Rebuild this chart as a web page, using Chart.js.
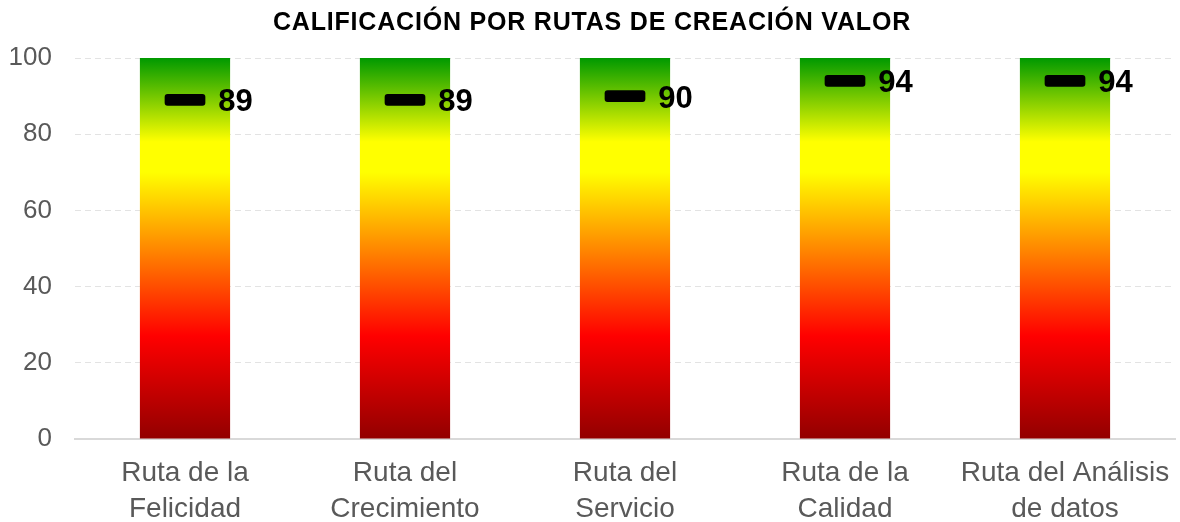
<!DOCTYPE html>
<html><head><meta charset="utf-8">
<script src="https://cdn.jsdelivr.net/npm/chart.js@4/dist/chart.umd.min.js"></script>
<style>html,body{margin:0;padding:0;background:#fff}#wrap{width:1180px;height:522px;position:relative}canvas{display:block}</style>
</head><body><div id="wrap"><canvas id="c" width="1180" height="522"></canvas></div>
<script>
const chartTitle = "CALIFICACIÓN POR RUTAS DE CREACIÓN VALOR";
const categories = [["Ruta de la","Felicidad"],["Ruta del","Crecimiento"],["Ruta del","Servicio"],["Ruta de la","Calidad"],["Ruta del Análisis","de datos"]];
const scores = [89, 89, 90, 94, 94];
const fullScale = [100, 100, 100, 100, 100];
const yTicks = [0, 20, 40, 60, 80, 100];
const markerHalf = 1.55;

const FONT = "'Liberation Sans', Arial, sans-serif";

function barGradient(ctx) {
  const chart = ctx.chart;
  const y = chart.scales.y;
  if (!chart.chartArea || !y) return '#ff0000';
  const g = chart.ctx.createLinearGradient(0, y.getPixelForValue(0), 0, y.getPixelForValue(100));
  g.addColorStop(0, '#920000');
  g.addColorStop(0.27, '#ff0000');
  g.addColorStop(0.70, '#ffff00');
  g.addColorStop(0.78, '#ffff00');
  g.addColorStop(1, '#009900');
  return g;
}

const titlePlugin = {
  id: 'customTitle',
  afterDraw(chart) {
    const c = chart.ctx;
    c.save();
    c.font = "bold 25px " + FONT;
    c.fillStyle = '#000';
    c.textAlign = 'center';
    c.textBaseline = 'middle';
    try { c.letterSpacing = '0.8px'; } catch (e) {}
    c.fillText(chartTitle, 592, 23);
    c.restore();
  }
};

const labelPlugin = {
  id: 'scoreLabels',
  afterDatasetsDraw(chart) {
    const meta = chart.getDatasetMeta(1);
    const c = chart.ctx;
    c.save();
    c.font = "bold 31px " + FONT;
    c.fillStyle = '#000';
    c.textAlign = 'left';
    c.textBaseline = 'middle';
    meta.data.forEach((el, i) => {
      const p = el.getProps(['x', 'y', 'base', 'width'], true);
      const cy = (p.y + p.base) / 2;
      c.fillText(String(scores[i]), p.x + p.width / 2 + 13, cy + 3);
    });
    c.restore();
  }
};

new Chart(document.getElementById('c'), {
  type: 'bar',
  data: {
    labels: categories,
    datasets: [
      {
        data: fullScale,
        backgroundColor: barGradient,
        borderWidth: 0,
        categoryPercentage: 1,
        barPercentage: 0.41,
        grouped: false,
        order: 2
      },
      {
        data: scores.map(v => [v - markerHalf, v + markerHalf]),
        backgroundColor: '#000',
        borderWidth: 0,
        borderRadius: 3,
        borderSkipped: false,
        categoryPercentage: 1,
        barPercentage: 0.185,
        grouped: false,
        order: 1
      }
    ]
  },
  options: {
    responsive: false,
    maintainAspectRatio: false,
    animation: false,
    devicePixelRatio: 1,
    layout: { padding: { left: 0, right: 5, top: 58, bottom: 0 } },
    plugins: { legend: { display: false }, tooltip: { enabled: false }, title: { display: false } },
    scales: {
      x: {
        grid: { display: false, drawTicks: false },
        border: { display: true, color: '#d9d9d9', width: 2 },
        ticks: { color: '#595959', font: { family: FONT, size: 28, lineHeight: 1.3 }, padding: 16, maxRotation: 0, autoSkip: false },
        afterFit(s) { s.height = 83; s.paddingRight = 0; s.paddingLeft = 0; }
      },
      y: {
        min: 0, max: 100,
        afterBuildTicks(s) { s.ticks = yTicks.map(v => ({ value: v })); },
        grid: { color: '#e3e3e3', drawTicks: false, lineWidth: 1 },
        border: { display: false, dash: [6, 4] },
        ticks: { color: '#595959', font: { family: FONT, size: 26 }, padding: 23 },
        afterFit(s) { s.width = 75; s.paddingTop = 0; s.paddingBottom = 0; }
      }
    }
  },
  plugins: [titlePlugin, labelPlugin]
});
</script>
</body></html>
